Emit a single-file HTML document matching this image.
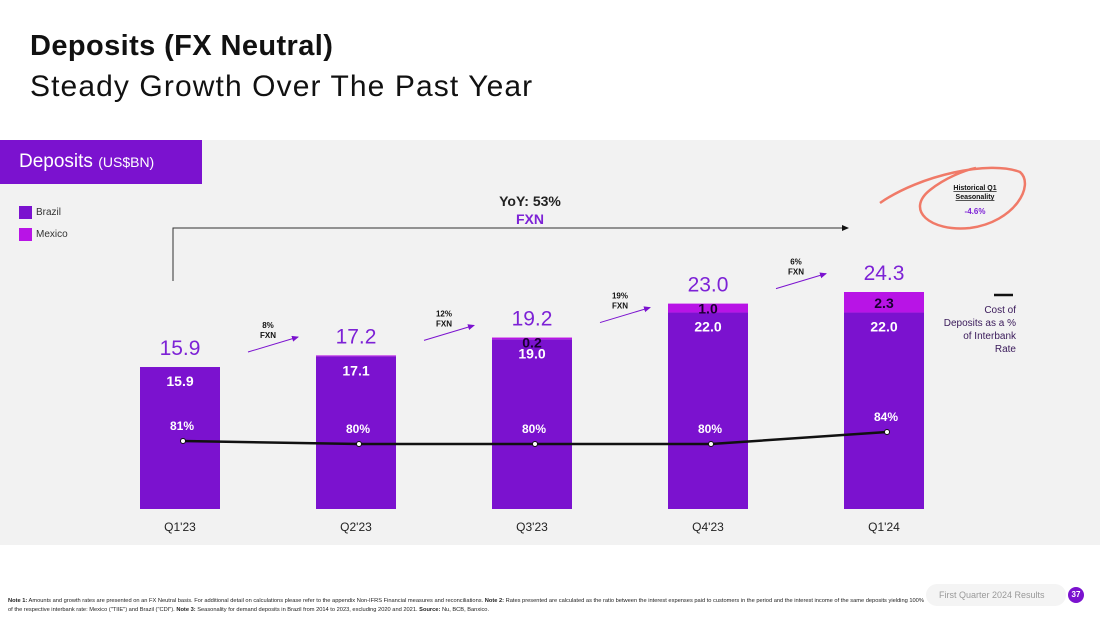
<!DOCTYPE html>
<html><head><meta charset="utf-8">
<style>
body{margin:0;width:1100px;height:619px;background:#fff;font-family:"Liberation Sans",sans-serif;overflow:hidden;position:relative}
.abs{position:absolute}
</style></head>
<body>
<div class="abs" style="left:30px;top:30px;font-size:29px;font-weight:bold;color:#111;letter-spacing:0.4px">Deposits (FX Neutral)</div>
<div class="abs" style="left:30px;top:70px;font-size:30px;color:#111;letter-spacing:1.1px">Steady Growth Over The Past Year</div>
<div class="abs" style="left:0;top:140px;width:1100px;height:405px;background:#f2f2f2"></div>
<div class="abs" style="left:0;top:140px;width:202px;height:44px;background:#7b12cf;color:#fff;font-size:19px;line-height:44px;padding-left:19px;box-sizing:border-box">Deposits <span style="font-size:14px">(US$BN)</span></div>
<div class="abs" style="left:19px;top:206px;font-size:10px;color:#333"><span style="display:inline-block;width:13px;height:13px;background:#7b12cf;vertical-align:middle;margin-right:4px"></span>Brazil</div>
<div class="abs" style="left:19px;top:228px;font-size:10px;color:#333"><span style="display:inline-block;width:13px;height:13px;background:#b814e6;vertical-align:middle;margin-right:4px"></span>Mexico</div>
<svg class="abs" style="left:0;top:0" width="1100" height="619" id="chart"></svg>
<div class="abs" style="left:8px;top:597px;width:920px;font-size:5.7px;line-height:9px;color:#222"><b>Note 1:</b> Amounts and growth rates are presented on an FX Neutral basis. For additional detail on calculations please refer to the appendix Non-IFRS Financial measures and reconciliations. <b>Note 2:</b> Rates presented are calculated as the ratio between the interest expenses paid to customers in the period and the interest income of the same deposits yielding 100% of the respective interbank rate: Mexico ("TIIE") and Brazil ("CDI"). <b>Note 3:</b> Seasonality for demand deposits in Brazil from 2014 to 2023, excluding 2020 and 2021. <b>Source:</b> Nu, BCB, Banxico.</div>
<div class="abs" style="left:926px;top:584px;width:140px;height:22px;background:#f4f4f4;border-radius:11px;font-size:9px;color:#999;line-height:22px;padding-left:13px;box-sizing:border-box">First Quarter 2024 Results</div>
<div class="abs" style="left:1068px;top:587px;width:16px;height:16px;border-radius:8px;background:#7b12cf;color:#fff;font-size:8px;font-weight:bold;text-align:center;line-height:16px">37</div>
<script>
const categories=["Q1'23","Q2'23","Q3'23","Q4'23","Q1'24"];
const brazil=[15.9,17.1,19.0,22.0,22.0];
const mexico=[0,0.1,0.2,1.0,2.3];
const totals=["15.9","17.2","19.2","23.0","24.3"];
const costPct=[81,80,80,80,84];
const growth=["8%","12%","19%","6%"];
const NS="http://www.w3.org/2000/svg";
const svg=document.getElementById('chart');
const base=509, scale=8.93, bw=80;
const xc=i=>180+i*176;
const yv=v=>base-v*scale;
const yp=p=>444-(p-80)*3;
function el(t,a,txt){const e=document.createElementNS(NS,t);for(const k in a)e.setAttribute(k,a[k]);if(txt!==undefined)e.textContent=txt;svg.appendChild(e);return e;}
const F='"Liberation Sans",sans-serif';
const d=el('defs',{});d.innerHTML='<marker id="ah" markerWidth="8" markerHeight="8" refX="6" refY="3" orient="auto"><path d="M0,0L7,3L0,6z" fill="#7b12cf"/></marker><marker id="ak" markerWidth="8" markerHeight="8" refX="6" refY="3" orient="auto"><path d="M0,0L7,3L0,6z" fill="#111"/></marker>';
categories.forEach((c,i)=>{
 const x=xc(i)-bw/2;
 let b=el('rect',{x:x,y:yv(brazil[i]),width:bw,height:brazil[i]*scale,fill:'#7b12cf'});
 
 if(mexico[i]>0){let m=el('rect',{x:x,y:yv(brazil[i]+mexico[i]),width:bw,height:mexico[i]*scale,fill:'#b814e6'});
 }
 const top=yv(brazil[i]+mexico[i]);
 let t=el('text',{x:xc(i),y:top-12,'text-anchor':'middle','font-size':21,fill:'#7d22d6','font-family':F},totals[i]);
 
 let bl=el('text',{x:xc(i),y:yv(brazil[i])+19,'text-anchor':'middle','font-size':14,'font-weight':'bold',fill:'#fff','font-family':F},brazil[i].toFixed(1));
 
 if(mexico[i]>=0.2){let ml=el('text',{x:xc(i),y:yv(brazil[i]+mexico[i])+(mexico[i]>1?16:10),'text-anchor':'middle','font-size':14,'font-weight':'bold',fill:'#1a0030','font-family':F},mexico[i].toFixed(1));
 }
 let pl=el('text',{x:xc(i)+2,y:yp(costPct[i])-11,'text-anchor':'middle','font-size':12,'font-weight':'bold',fill:'#fff','font-family':F},costPct[i]+'%');
 
 let xl=el('text',{x:xc(i),y:531,'text-anchor':'middle','font-size':12,fill:'#222','font-family':F},c);
 
});
let pts=costPct.map((p,i)=>(xc(i)+3)+','+yp(p)).join(' ');
let ln=el('polyline',{points:pts,fill:'none',stroke:'#111','stroke-width':2.5});

costPct.forEach((p,i)=>{let c=el('circle',{cx:xc(i)+3,cy:yp(p),r:2.5,fill:'#fff',stroke:'#111','stroke-width':1});
 });
growth.forEach((g,i)=>{
 const mx=(xc(i)+xc(i+1))/2, ty=yv(brazil[i]+mexico[i]);
 let a=el('line',{x1:mx-20,y1:ty-15,x2:mx+30,y2:ty-30,stroke:'#7b12cf','stroke-width':1,'marker-end':'url(#ah)'});
 
 let t1=el('text',{x:mx,y:ty-39,'text-anchor':'middle','font-size':8,'font-weight':'bold',fill:'#111','font-family':F},g);
 
 let t2=el('text',{x:mx,y:ty-29,'text-anchor':'middle','font-size':8,'font-weight':'bold',fill:'#111','font-family':F},'FXN');
 
});
let yy=el('polyline',{points:'173,281 173,228 848,228',fill:'none',stroke:'#333','stroke-width':1,'marker-end':'url(#ak)'});

let y1=el('text',{x:530,y:206,'text-anchor':'middle','font-size':14,'font-weight':'bold',fill:'#222','font-family':F},'YoY: 53%');

let y2=el('text',{x:530,y:224,'text-anchor':'middle','font-size':14,'font-weight':'bold',fill:'#7d22d6','font-family':F},'FXN');

let circ=el('path',{d:'M880,203 C920,175 990,160 1020,172 C1035,185 1015,222 970,228 C930,232 905,210 930,190 C945,178 965,170 976,168',fill:'none',stroke:'#f07a68','stroke-width':2.5});

[['Historical Q1',190],['Seasonality',199]].forEach((s,k)=>{let t=el('text',{x:975,y:s[1],'text-anchor':'middle','font-size':7,'font-weight':'bold','text-decoration':'underline',fill:'#111','font-family':F},s[0]);
});
let sv=el('text',{x:975,y:214,'text-anchor':'middle','font-size':8,'font-weight':'bold',fill:'#7d22d6','font-family':F},'-4.6%');

let lk=el('line',{x1:994,y1:295,x2:1013,y2:295,stroke:'#111','stroke-width':2.5});

['Cost of','Deposits as a %','of Interbank','Rate'].forEach((s,k)=>{let t=el('text',{x:1016,y:313+k*13,'text-anchor':'end','font-size':10,fill:'#3a1a5a','font-family':F},s);
});
</script>
</body></html>
